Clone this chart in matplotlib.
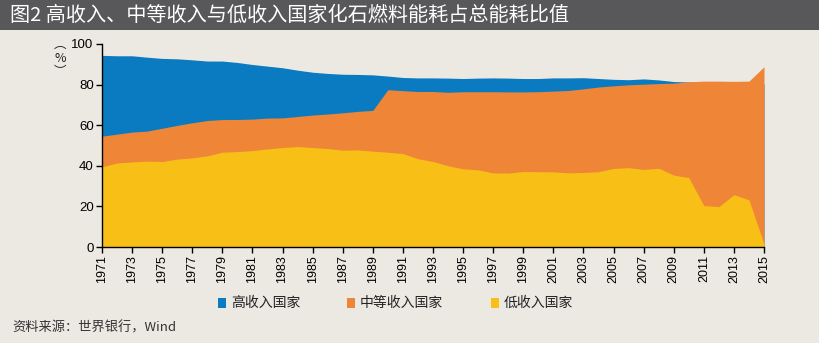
import matplotlib.pyplot as plt
from matplotlib.patches import Rectangle

plt.rcParams['font.family'] = ['Noto Sans CJK SC', 'DejaVu Sans']

years = list(range(1971, 2016))

# high income countries (%)
high = [94.4, 94.2, 94.2, 93.5, 92.9, 92.7, 92.2, 91.6, 91.6, 90.9,
        89.9, 89.1, 88.3, 87.1, 86.1, 85.5, 85.1, 85.0, 84.8, 84.2,
        83.5, 83.3, 83.3, 83.2, 83.0, 83.2, 83.3, 83.2, 83.0, 83.0,
        83.3, 83.3, 83.4, 83.0, 82.6, 82.4, 82.8, 82.3, 81.5, 81.3,
        81.0, 80.8, 80.7, 80.5, 80.3]

# middle income countries (%)
middle = [54.6, 55.6, 56.6, 57.1, 58.5, 59.9, 61.2, 62.3, 62.8, 62.8,
          63.0, 63.5, 63.6, 64.3, 65.0, 65.5, 66.1, 66.8, 67.3, 77.5,
          77.0, 76.6, 76.6, 76.2, 76.5, 76.5, 76.5, 76.4, 76.4, 76.5,
          76.8, 77.1, 77.9, 78.8, 79.4, 79.9, 80.2, 80.5, 80.7, 81.4,
          81.7, 81.7, 81.6, 81.7, 88.8]

# low income countries (%)
low = [39.5, 41.4, 41.9, 42.3, 42.1, 43.3, 43.9, 44.9, 46.7, 47.0,
       47.5, 48.3, 49.0, 49.5, 49.0, 48.5, 47.7, 47.8, 47.2, 46.7,
       46.0, 43.5, 42.1, 40.0, 38.5, 38.0, 36.5, 36.4, 37.2, 37.1,
       37.0, 36.5, 36.7, 37.1, 38.7, 39.1, 38.2, 38.8, 35.4, 34.2,
       20.4, 19.9, 25.8, 23.2, 1.5]

labels = ['高收入国家', '中等收入国家', '低收入国家']
colors = ['#0A7BC1', '#EF8537', '#F8BF16']
bg = '#ECE9E3'


def main():
    fig = plt.figure(figsize=(8.2, 3.43), dpi=100, facecolor=bg)

    # title bar
    fig.patches.append(Rectangle((0, 1 - 30 / 343), 1, 30 / 343, transform=fig.transFigure,
                                 facecolor='#58585A', edgecolor='none'))
    fig.text(10 / 820, 1 - 15 / 343, '图2 高收入、中等收入与低收入国家化石燃料能耗占总能耗比值',
             color='white', fontsize=14.5, va='center', ha='left')

    ax = fig.add_axes([102 / 820, 1 - 247 / 343, 662 / 820, 203 / 343])
    ax.set_facecolor(bg)

    for vals, color in zip([high, middle, low], colors):
        ax.fill_between(years, vals, 0, color=color, linewidth=0)

    ax.set_xlim(1971, 2015)
    ax.set_ylim(0, 100)
    ax.set_xticks(years[::2])
    ax.set_xticklabels([str(y) for y in years[::2]], rotation=90,
                       family='Liberation Sans', fontsize=9)
    ax.set_yticks([0, 20, 40, 60, 80, 100])
    ax.set_yticklabels(['0', '20', '40', '60', '80', '100'],
                       family='Liberation Sans', fontsize=9.5)
    ax.tick_params(direction='out', length=4, width=1, color='black', pad=2)
    ax.spines['right'].set_visible(False)
    ax.spines['top'].set_visible(False)
    for s in ['left', 'bottom']:
        ax.spines[s].set_linewidth(1)

    # vertical unit label
    fig.text(60 / 820, 1 - 58 / 343, '︵\n%\n︶', fontsize=9, ha='center', va='center',
             linespacing=1.1, color='#222222')

    # legend
    for x0, label, color in zip([218, 347, 491], labels, colors):
        fig.patches.append(Rectangle((x0 / 820, 1 - 308 / 343), 8 / 820, 10 / 343,
                                     transform=fig.transFigure, facecolor=color,
                                     edgecolor='none'))
        fig.text((x0 + 13) / 820, 1 - 303 / 343, label, fontsize=10, ha='left',
                 va='center', color='#222222')

    fig.text(12 / 820, 1 - 328 / 343, '资料来源：世界银行，Wind', fontsize=9.5,
             ha='left', va='center', color='#333333')

    fig.savefig('out.png', dpi=100, facecolor=bg)


if __name__ == '__main__':
    main()
